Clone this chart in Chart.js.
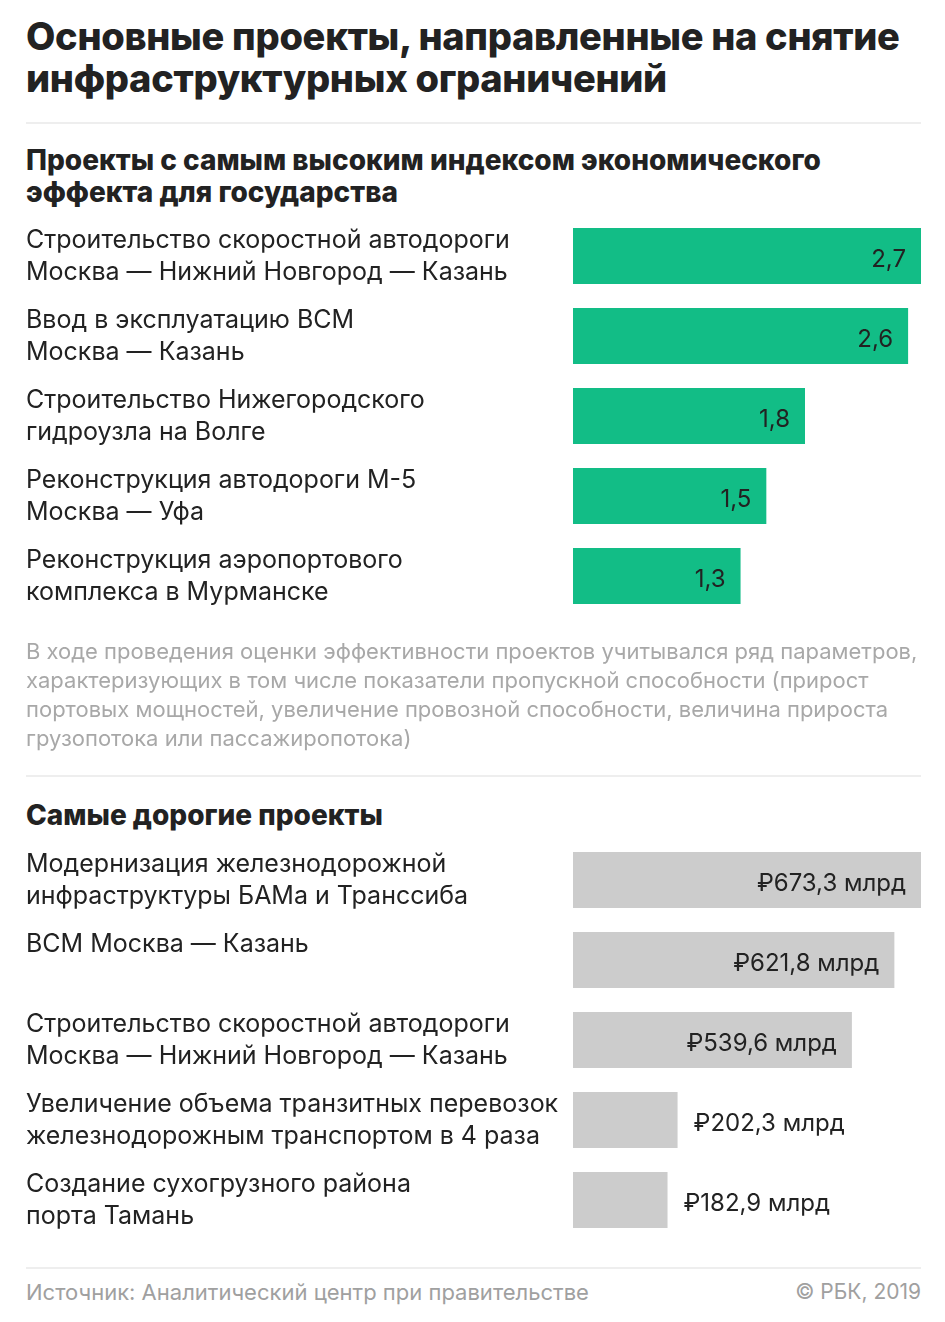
<!DOCTYPE html>
<html lang="ru">
<head>
<meta charset="utf-8">
<script src="https://cdn.jsdelivr.net/npm/chart.js@4.4.1/dist/chart.umd.min.js"></script>
<style>
  html, body { margin: 0; padding: 0; background: #fff; }
  body { width: 945px; height: 1322px; position: relative; overflow: hidden;
         font-family: Inter, Roboto, "Noto Sans", "DejaVu Sans", sans-serif; color: #222; }
  .abs { position: absolute; left: 26px; }
  .title { top: 15px; font-size: 38px; line-height: 42px; font-weight: 800; letter-spacing: -0.3px; }
  .sub { font-size: 28px; line-height: 32px; font-weight: 800; }
  .rule { position: absolute; left: 26px; width: 895px; height: 2px; background: #eeeeee; }
  .note { top: 637px; font-size: 22px; line-height: 29px; color: #a8a8a8; }
  .foot { top: 1279px; font-size: 22px; line-height: 26px; color: #a0a0a0; }
  .copy { position: absolute; right: 24px; top: 1279px; font-size: 21px; line-height: 26px; color: #a0a0a0; }
  .box { position: absolute; left: 0; width: 945px; height: 464px; }
</style>
</head>
<body>
<div class="abs title">Основные проекты, направленные на снятие<br>инфраструктурных ограничений</div>
<div class="rule" style="top:122px"></div>
<div class="abs sub" style="top:144px">Проекты с самым высоким индексом экономического<br>эффекта для государства</div>

<!-- холст выше на 64px: ось Y съедает по 32px сверху и снизу под двухстрочные подписи -->
<div class="box" style="top:184px"><canvas id="effectChart"></canvas></div>

<div class="abs note">В ходе проведения оценки эффективности проектов учитывался ряд параметров,<br>характеризующих в том числе показатели пропускной способности (прирост<br>портовых мощностей, увеличение провозной способности, величина прироста<br>грузопотока или пассажиропотока)</div>
<div class="rule" style="top:775px"></div>
<div class="abs sub" style="top:799px">Самые дорогие проекты</div>

<div class="box" style="top:808px"><canvas id="costChart"></canvas></div>

<div class="rule" style="top:1267px"></div>
<div class="abs foot">Источник: Аналитический центр при правительстве</div>
<div class="copy">© РБК, 2019</div>

<script>
const effectLabels = [
    ['Строительство скоростной автодороги', 'Москва — Нижний Новгород — Казань'],
    ['Ввод в эксплуатацию ВСМ', 'Москва — Казань'],
    ['Строительство Нижегородского', 'гидроузла на Волге'],
    ['Реконструкция автодороги М-5', 'Москва — Уфа'],
    ['Реконструкция аэропортового', 'комплекса в Мурманске']
];
const effectValues = [2.7, 2.6, 1.8, 1.5, 1.3];

const costLabels = [
    ['Модернизация железнодорожной', 'инфраструктуры БАМа и Транссиба'],
    ['ВСМ Москва — Казань', ''],
    ['Строительство скоростной автодороги', 'Москва — Нижний Новгород — Казань'],
    ['Увеличение объема транзитных перевозок', 'железнодорожным транспортом в 4 раза'],
    ['Создание сухогрузного района', 'порта Тамань']
];
const costValues = [673.3, 621.8, 539.6, 202.3, 182.9];

const rbcGreen = '#12bd86';
const rbcGray = '#cccccc';
const fontFamily = 'Inter, Roboto, "Noto Sans", "DejaVu Sans", sans-serif';

// подписи значений: внутри столбца справа, если помещается, иначе снаружи
const valueLabels = {
    id: 'valueLabels',
    afterDatasetsDraw(chart, args, opts) {
        const ctx = chart.ctx;
        const meta = chart.getDatasetMeta(0);
        ctx.save();
        ctx.font = '24px ' + fontFamily;
        ctx.fillStyle = '#222';
        ctx.textBaseline = 'middle';
        meta.data.forEach((bar, i) => {
            const text = opts.format(chart.data.datasets[0].data[i]);
            const w = ctx.measureText(text).width;
            const barWidth = bar.x - bar.base;
            if (w + 30 < barWidth) {
                ctx.textAlign = 'right';
                ctx.fillText(text, bar.x - 15, bar.y + 4);
            } else {
                ctx.textAlign = 'left';
                ctx.fillText(text, bar.x + 16, bar.y + 4);
            }
        });
        ctx.restore();
    }
};

function makeChart(id, labels, values, color, max, format) {
    return new Chart(document.getElementById(id), {
        type: 'bar',
        data: {
            labels: labels,
            datasets: [{
                data: values,
                backgroundColor: color,
                categoryPercentage: 1,
                barPercentage: 0.7,
                borderWidth: 0
            }]
        },
        options: {
            indexAxis: 'y',
            responsive: true,
            maintainAspectRatio: false,
            animation: false,
            layout: { padding: { left: 26, right: 24, top: 0, bottom: 0 } },
            scales: {
                x: { display: false, min: 0, max: max },
                y: {
                    grid: { display: false },
                    border: { display: false },
                    afterFit: scale => { scale.width = 547; },
                    ticks: {
                        crossAlign: 'far',
                        padding: 0,
                        color: '#222',
                        font: { family: fontFamily, size: 25, lineHeight: 32 / 25 }
                    }
                }
            },
            plugins: {
                legend: { display: false },
                tooltip: { enabled: false },
                valueLabels: { format: format }
            }
        },
        plugins: [valueLabels]
    });
}

makeChart('effectChart', effectLabels, effectValues, rbcGreen, 2.7,
    v => v.toFixed(1).replace('.', ','));
makeChart('costChart', costLabels, costValues, rbcGray, 673.3,
    v => '₽' + v.toFixed(1).replace('.', ',') + ' млрд');
</script>
</body>
</html>
